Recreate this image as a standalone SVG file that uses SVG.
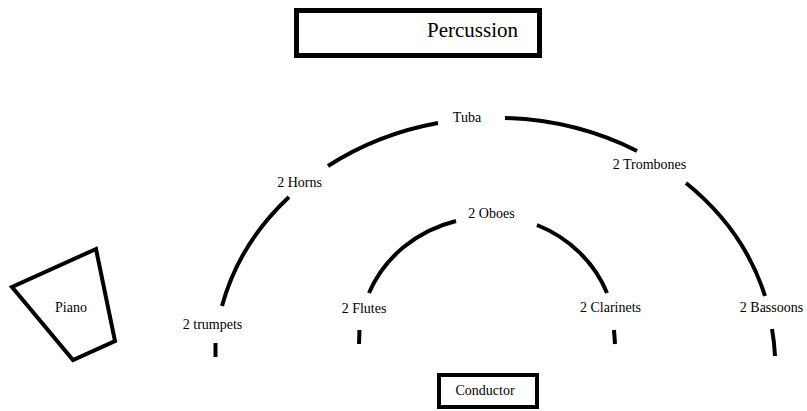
<svg xmlns="http://www.w3.org/2000/svg" width="807" height="411" viewBox="0 0 807 411">
<style>
.box{fill:#fff;stroke:#000}
.arc{fill:none;stroke:#000;stroke-width:4;stroke-linecap:butt}
text{font-family:"Liberation Serif","DejaVu Serif",serif;font-size:14px;fill:#000;text-anchor:middle}
</style>
<rect width="807" height="411" fill="#fff"/>
<g id="connectors">
  <line class="arc" x1="215.5" y1="343" x2="215.5" y2="357"/>
  <path class="arc" d="M222,306 A280,242 0 0 1 289,197"/>
  <path class="arc" d="M328,166 A280,242 0 0 1 438,123"/>
  <path class="arc" d="M505,118 A280,242 0 0 1 637,151"/>
  <path class="arc" d="M686,183 A280,242 0 0 1 765,296"/>
  <path class="arc" d="M772,329 A280,242 0 0 1 775,356"/>
  <line class="arc" x1="359.5" y1="330" x2="359" y2="344"/>
  <path class="arc" d="M369,293 A129,121 0 0 1 456,221"/>
  <path class="arc" d="M537,225 A129,121 0 0 1 607,293"/>
  <line class="arc" x1="614" y1="330" x2="615" y2="344"/>
</g>
<g id="percussion">
  <rect class="box" x="296.5" y="10.5" width="243" height="45" stroke-width="5"/>
  <text x="472.5" y="37" font-family="Liberation Serif, serif" style="font-size:21px">Percussion</text>
</g>
<g id="tuba"><text x="467" y="122" font-family="Liberation Serif, serif">Tuba</text></g>
<g id="horns"><text x="299.5" y="187" font-family="Liberation Serif, serif">2 Horns</text></g>
<g id="trombones"><text x="649.5" y="169" font-family="Liberation Serif, serif">2 Trombones</text></g>
<g id="oboes"><text x="491.5" y="218" font-family="Liberation Serif, serif">2 Oboes</text></g>
<g id="trumpets"><text x="212.5" y="329" font-family="Liberation Serif, serif">2 trumpets</text></g>
<g id="flutes"><text x="364" y="313" font-family="Liberation Serif, serif">2 Flutes</text></g>
<g id="clarinets"><text x="610.5" y="312" font-family="Liberation Serif, serif">2 Clarinets</text></g>
<g id="bassoons"><text x="771.5" y="312" font-family="Liberation Serif, serif">2 Bassoons</text></g>
<g id="piano">
  <polygon class="box" points="96,249 12,287 73,360 115,341" stroke-width="4" stroke-linejoin="miter"/>
  <text x="71" y="312" font-family="Liberation Serif, serif">Piano</text>
</g>
<g id="conductor">
  <rect class="box" x="439" y="375" width="98" height="32" stroke-width="4"/>
  <text x="485" y="395" font-family="Liberation Serif, serif">Conductor</text>
</g>
</svg>
